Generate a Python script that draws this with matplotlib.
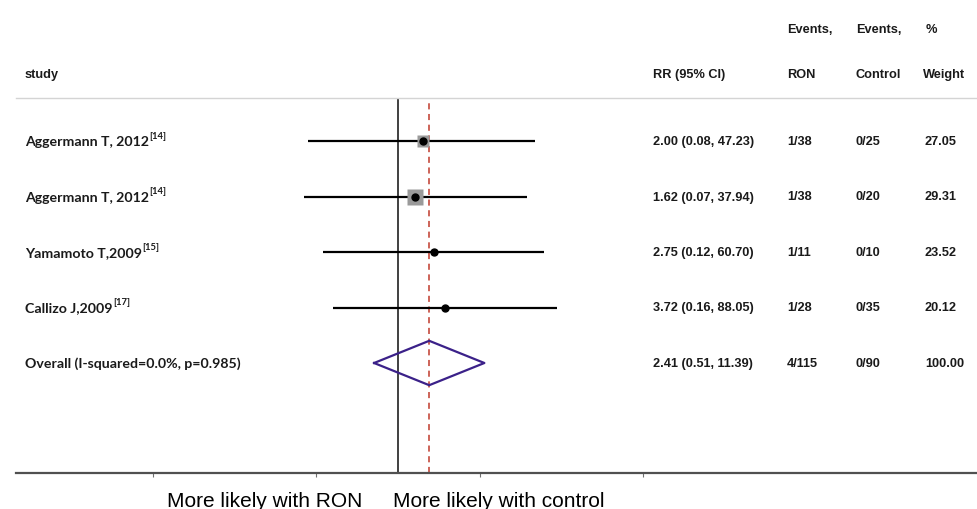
import numpy as np
import matplotlib.pyplot as plt
from matplotlib.transforms import blended_transform_factory

# data
studies = ["Aggermann T, 2012", "Aggermann T, 2012", "Yamamoto T,2009", "Callizo J,2009"]
refs = ["[14]", "[14]", "[15]", "[17]"]
rr = [2.00, 1.62, 2.75, 3.72]
lo = [0.08, 0.07, 0.12, 0.16]
hi = [47.23, 37.94, 60.70, 88.05]
ev_ron = ["1/38", "1/38", "1/11", "1/28"]
ev_ctl = ["0/25", "0/20", "0/10", "0/35"]
weight = [27.05, 29.31, 23.52, 20.12]

overall_label = "Overall (I-squared=0.0%, p=0.985)"
overall_rr, overall_lo, overall_hi = 2.41, 0.51, 11.39
overall_ron, overall_ctl, overall_w = "4/115", "0/90", 100.00

W, H = 978, 510
fig = plt.figure(figsize=(W / 100, H / 100), dpi=100)
ax = fig.add_axes([16 / W, (H - 474) / H, (W - 16) / W, (474 - 99) / H])

# log scale: 1 at x=398 px, 35.5 px per ln unit
px_per = 35.5
ax.set_xscale("log")
ax.set_xlim(np.exp((16 - 398) / px_per), np.exp((978 - 398) / px_per))
row_h = 55.5
ax.set_ylim((474 - 142) / row_h, (99 - 142) / row_h)

for s in ["left", "right"]:
    ax.spines[s].set_visible(False)
ax.spines["top"].set_color("#d4d4d4")
ax.spines["top"].set_linewidth(1.0)
ax.spines["bottom"].set_color("#505050")
ax.spines["bottom"].set_linewidth(1.6)
ax.set_yticks([])
ax.set_xticks([0.001, 0.1, 10, 1000])
ax.xaxis.set_minor_locator(plt.NullLocator())
ax.tick_params(axis="x", length=3, width=0.8, color="#707070", labelbottom=False)

ax.axvline(1, color="#404040", lw=1.4, zorder=1)
ax.axvline(overall_rr, color="#c0392b", lw=1.1, ls=(0, (4, 3)), zorder=1)

rows = np.arange(len(studies))
ax.hlines(rows, lo, hi, color="black", lw=1.6, zorder=2)
for i in rows:
    box = max(weight[i] - 19, 3) * 1.1
    ax.plot(rr[i], i, marker="s", ms=box, color="#9a9a9a", mec="none", zorder=3)
    ax.plot(rr[i], i, marker="o", ms=5, color="black", zorder=4)

yo = len(studies)
dx = [overall_lo, overall_rr, overall_hi, overall_rr, overall_lo]
dy = [yo, yo - 0.4, yo, yo + 0.4, yo]
ax.plot(dx, dy, color="#3b2189", lw=1.6, zorder=3)

# table text
tr = blended_transform_factory(fig.transFigure, ax.transData)
lab_font = dict(family="Lato", weight="bold", fontsize=10.2, color="#1a1a1a")
num_font = dict(family="Liberation Sans", weight="bold", fontsize=9.2, color="#1a1a1a")
for i in rows:
    t = fig.text(25 / W, i, studies[i], transform=tr, va="center", ha="left", **lab_font)
    ax.annotate(refs[i], xy=(1, 1), xycoords=t, xytext=(0.3, 3), textcoords="offset points",
                va="top", ha="left", family="Lato", weight="bold", fontsize=6.8,
                color="#1a1a1a")
    fig.text(653 / W, i, "%.2f (%.2f, %.2f)" % (rr[i], lo[i], hi[i]), transform=tr,
             va="center", **num_font)
    fig.text(787 / W, i, ev_ron[i], transform=tr, va="center", **num_font)
    fig.text(856 / W, i, ev_ctl[i], transform=tr, va="center", **num_font)
    fig.text(925 / W, i, "%.2f" % weight[i], transform=tr, va="center", **num_font)

fig.text(25 / W, yo, overall_label, transform=tr, va="center", **lab_font)
fig.text(653 / W, yo, "%.2f (%.2f, %.2f)" % (overall_rr, overall_lo, overall_hi),
         transform=tr, va="center", **num_font)
fig.text(787 / W, yo, overall_ron, transform=tr, va="center", **num_font)
fig.text(856 / W, yo, overall_ctl, transform=tr, va="center", **num_font)
fig.text(925 / W, yo, "%.2f" % overall_w, transform=tr, va="center", **num_font)

# headers
y1, y2 = 1 - 30 / H, 1 - 75 / H
fig.text(25 / W, y2, "study", va="center", **num_font)
fig.text(653 / W, y2, "RR (95% CI)", va="center", **num_font)
fig.text(787 / W, y1, "Events,", va="center", **num_font)
fig.text(787 / W, y2, "RON", va="center", **num_font)
fig.text(856 / W, y1, "Events,", va="center", **num_font)
fig.text(856 / W, y2, "Control", va="center", **num_font)
fig.text(926 / W, y1, "%", va="center", **num_font)
fig.text(923 / W, y2, "Weight", va="center", **num_font)

# direction labels
fig.text(362 / W, 1 - 507 / H, "More likely with RON", ha="right", va="baseline",
         family="Liberation Sans", fontsize=15)
fig.text(393 / W, 1 - 507 / H, "More likely with control", ha="left", va="baseline",
         family="Liberation Sans", fontsize=15)

plt.savefig("out.png", dpi=100)
